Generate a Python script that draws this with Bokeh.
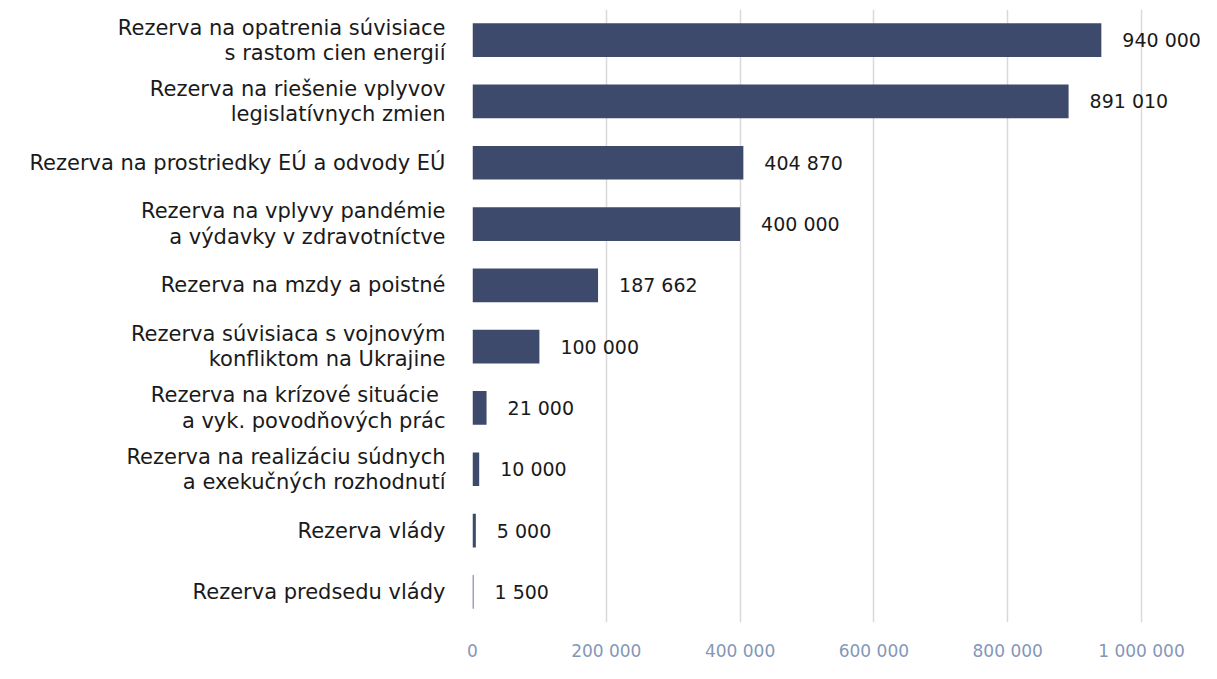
from bokeh.plotting import figure
from bokeh.models import FactorRange, Range1d, ColumnDataSource, FixedTicker
from bokeh.core.properties import value
from bokeh.embed import file_html
from bokeh.resources import INLINE

categories = [
    "Rezerva na opatrenia súvisiace\ns rastom cien energií",
    "Rezerva na riešenie vplyvov\nlegislatívnych zmien",
    "Rezerva na prostriedky EÚ a odvody EÚ",
    "Rezerva na vplyvy pandémie\na výdavky v zdravotníctve",
    "Rezerva na mzdy a poistné",
    "Rezerva súvisiaca s vojnovým\nkonfliktom na Ukrajine",
    "Rezerva na  krízové situácie\na vyk. povodňových prác",
    "Rezerva na realizáciu súdnych\na exekučných rozhodnutí",
    "Rezerva vlády",
    "Rezerva predsedu vlády",
]
values = [940000, 891010, 404870, 400000, 187662, 100000, 21000, 10000, 5000, 1500]
ticks = [0, 200000, 400000, 600000, 800000, 1000000]
tick_labels = ["0", "200 000", "400 000", "600 000", "800 000", "1 000 000"]

def fmt(v):
    return f"{v:,}".replace(",", " ")

src = ColumnDataSource(dict(cat=categories, val=values, lab=[fmt(v) for v in values]))

FONT = "DejaVu Sans"

p = figure(
    width=1201, height=663,
    y_range=FactorRange(factors=list(reversed(categories))),
    x_range=Range1d(0, 1089700),
    output_backend="svg", toolbar_location=None,
    min_border_top=9, min_border_bottom=38, min_border_right=0, min_border_left=472,
)
p.outline_line_color = None
p.background_fill_color = "white"

p.hbar(y="cat", right="val", height=0.55, left=0, source=src,
       fill_color="#3d4a6b", line_color=None)

p.text(x="val", y="cat", text="lab", source=src, x_offset=21,
       text_baseline="middle", text_align="left",
       text_font=value(FONT), text_font_size="19px", text_color="#1a1a1a")

p.xaxis.ticker = FixedTicker(ticks=ticks)
p.xaxis.major_label_overrides = {t: l for t, l in zip(ticks, tick_labels)}
p.xaxis.axis_line_color = None
p.xaxis.major_tick_line_color = None
p.xaxis.minor_tick_line_color = None
p.xaxis.major_tick_out = 0
p.xaxis.major_tick_in = 0
p.xaxis.minor_tick_out = 0
p.xaxis.major_label_text_color = "#8497b8"
p.xaxis.major_label_text_font = FONT
p.xaxis.major_label_text_font_size = "17px"
p.xaxis.major_label_standoff = 18

p.yaxis.axis_line_color = None
p.yaxis.major_tick_line_color = None
p.yaxis.minor_tick_line_color = None
p.yaxis.major_tick_out = 0
p.yaxis.major_tick_in = 0
p.yaxis.minor_tick_out = 0
p.yaxis.major_label_text_color = "#1a1a1a"
p.yaxis.major_label_text_font = FONT
p.yaxis.major_label_text_font_size = "21px"
p.yaxis.major_label_text_line_height = 1.05
p.yaxis.major_label_standoff = 27

p.xgrid.grid_line_color = "#d9d9d9"
p.xgrid.grid_line_width = 1.5
p.ygrid.grid_line_color = None

open("out.html", "w").write(file_html(p, INLINE))
